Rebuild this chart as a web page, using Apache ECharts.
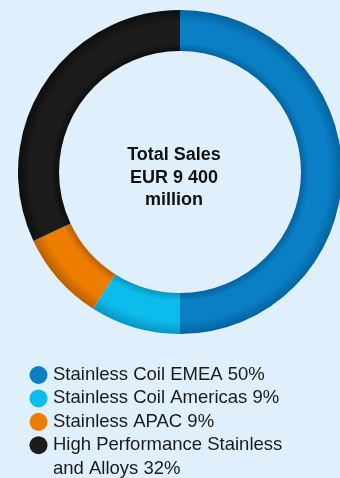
<!DOCTYPE html>
<html>
<head>
<meta charset="utf-8">
<style>
  html, body { margin: 0; padding: 0; background: #dff0fc; }
  #chart { width: 340px; height: 478px; }
</style>
<script src="https://cdn.jsdelivr.net/npm/echarts@6/dist/echarts.min.js"></script>
</head>
<body>
<div id="chart"></div>
<script>
// Sales split by business area (share of total, %)
const segments = ['Stainless Coil EMEA', 'Stainless Coil Americas', 'Stainless APAC', 'High Performance Stainless\nand Alloys'];
const shares = [50, 9, 9, 32];
const baseColors = ['#0a7fc6', '#0cbcec', '#ec7d00', '#1c1c1c'];
const edgeColors = ['#05639f', '#0896c2', '#b85f00', '#0e0e0e'];
const centerLines = ['Total Sales', 'EUR 9 400', 'million'];

const cx = 180, cy = 172, rOuter = 162, rInner = 121;
const k = rInner / rOuter;

// Tube-like shading: darker toward both ring edges
function ringGradient(i) {
  return new echarts.graphic.RadialGradient(cx, cy, rOuter, [
    { offset: 0, color: edgeColors[i] },
    { offset: k, color: edgeColors[i] },
    { offset: k + 0.05, color: baseColors[i] },
    { offset: 0.92, color: baseColors[i] },
    { offset: 1, color: edgeColors[i] }
  ], true);
}

// Key below the ring: dot + label per segment, multi-line labels keep the dot on line one
const legendTop = 375, lineStep = 23.4, dotX = 38.5, textX = 53;
const legendFont = { fontFamily: 'Liberation Sans', fontSize: 18.5, fill: '#1a1a1a' };
const legendItems = [];
let lineNo = 0;
segments.forEach((name, i) => {
  const y = legendTop + lineNo * lineStep;
  legendItems.push({
    type: 'circle',
    shape: { cx: dotX, cy: y, r: 9 },
    style: { fill: baseColors[i] }
  });
  const lines = (name + ' ' + shares[i] + '%').split('\n');
  lines.forEach((ln, j) => {
    legendItems.push({
      type: 'text',
      x: textX,
      y: y + j * lineStep,
      style: Object.assign({ text: ln, verticalAlign: 'middle' }, legendFont)
    });
  });
  lineNo += lines.length;
});

const chart = echarts.init(document.getElementById('chart'), null, { renderer: 'canvas' });
chart.setOption({
  backgroundColor: '#dff0fc',
  animation: false,
  graphic: [{
    type: 'text',
    x: 174,
    y: 144,
    style: {
      text: centerLines.join('\n'),
      fontFamily: 'Liberation Sans',
      fontWeight: 'bold',
      fontSize: 18,
      lineHeight: 22.5,
      fill: '#111',
      align: 'center',
      verticalAlign: 'top'
    }
  }].concat(legendItems),
  series: [{
    type: 'pie',
    center: [cx, cy],
    radius: [rInner, rOuter],
    startAngle: 90,
    clockwise: true,
    label: { show: false },
    labelLine: { show: false },
    emphasis: { disabled: true },
    itemStyle: { borderWidth: 0 },
    data: segments.map((n, i) => ({ name: n, value: shares[i], itemStyle: { color: ringGradient(i) } }))
  }]
});
</script>
</body>
</html>
